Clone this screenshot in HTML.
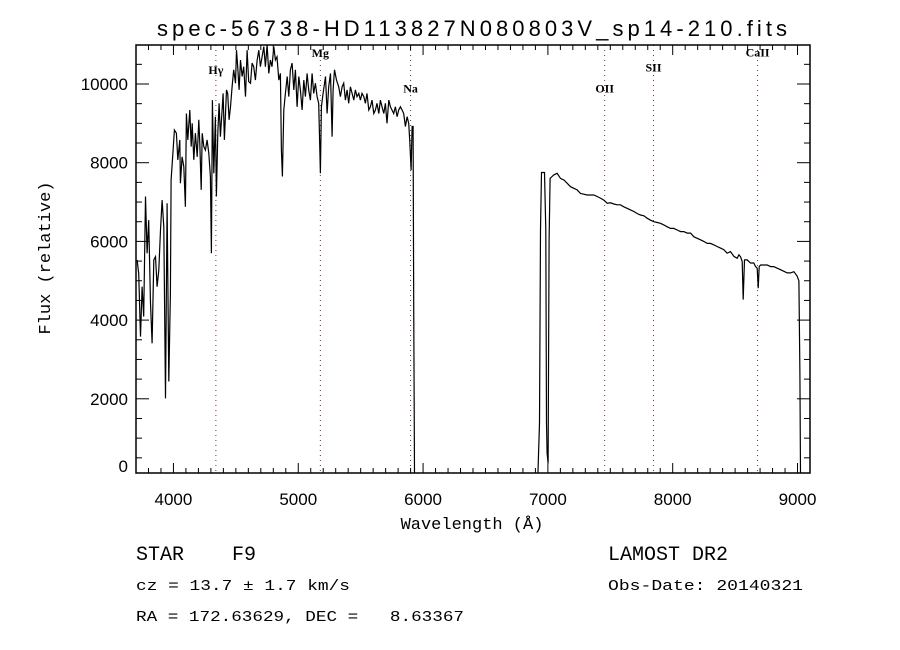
<!DOCTYPE html>
<html><head><meta charset="utf-8"><style>
body{margin:0;background:#fff;}
svg{display:block;}
text{fill:#000;}
</style></head><body>
<svg id="chart" width="900" height="650" xmlns="http://www.w3.org/2000/svg">
<rect width="900" height="650" fill="#fff"/>
<text x="157" y="36" font-family="Liberation Sans, sans-serif" font-size="22" textLength="630" lengthAdjust="spacing">spec-56738-HD113827N080803V_sp14-210.fits</text>
<text x="472" y="529" text-anchor="middle" font-family="Liberation Mono, monospace" font-size="17">Wavelength (Å)</text>
<text transform="translate(50,258) rotate(-90)" text-anchor="middle" font-family="Liberation Mono, monospace" font-size="17">Flux (relative)</text>
<g id="plot"></g>
<text x="136" y="560" font-family="Liberation Mono, monospace" font-size="20" xml:space="preserve">STAR    F9</text>
<text x="136" y="590" font-family="Liberation Mono, monospace" font-size="15" textLength="214" lengthAdjust="spacingAndGlyphs">cz = 13.7 ± 1.7 km/s</text>
<text x="136" y="621" font-family="Liberation Mono, monospace" font-size="15" xml:space="preserve" textLength="328" lengthAdjust="spacingAndGlyphs">RA = 172.63629, DEC =   8.63367</text>
<text x="608" y="560" font-family="Liberation Mono, monospace" font-size="20">LAMOST DR2</text>
<text x="608" y="590" font-family="Liberation Mono, monospace" font-size="15" textLength="195" lengthAdjust="spacingAndGlyphs">Obs-Date: 20140321</text>
</svg>
<script>
const wave=[3709,3722,3736,3749,3762,3776,3789,3802,3816,3829,3843,3856,3869,3883,3896,3909,3923,3936,3949,3963,3976,3981,3997,4008,4024,4035,4051,4056,4069,4083,4096,4104,4115,4131,4142,4150,4163,4176,4190,4203,4211,4222,4230,4243,4256,4270,4283,4296,4304,4312,4323,4336,4344,4355,4366,4376,4390,4398,4408,4425,4435,4446,4457,4470,4483,4497,4505,4515,4526,4537,4550,4563,4577,4590,4603,4617,4630,4643,4657,4670,4684,4697,4710,4724,4737,4750,4764,4777,4790,4804,4817,4830,4844,4857,4865,4873,4884,4897,4911,4924,4937,4951,4964,4977,4991,5004,5017,5031,5044,5057,5071,5084,5097,5111,5124,5137,5151,5164,5177,5185,5199,5218,5231,5244,5258,5271,5279,5290,5306,5324,5338,5351,5364,5378,5391,5404,5418,5431,5445,5458,5471,5485,5498,5511,5525,5538,5551,5565,5578,5591,5605,5618,5631,5645,5658,5671,5685,5698,5711,5725,5738,5751,5765,5778,5792,5805,5818,5832,5845,5858,5872,5885,5893,5904,5912,5920,5925,5931,5940,6910,
6919,6933,6941,6949,6973,6983,6989,6994,7002,7010,7018,7034,7047,7074,7101,7128,7154,7181,7208,7234,7261,7288,7315,7341,7368,7395,7421,7448,7475,7502,7528,7555,7582,7608,7635,7662,7689,7715,7742,7769,7795,7822,7849,7876,7902,7929,7956,7982,8009,8036,8063,8089,8116,8143,8169,8196,8223,8249,8276,8303,8330,8356,8383,8410,8436,8463,8490,8517,8530,8543,8557,8565,8575,8597,8623,8650,8664,8677,8685,8693,8704,8730,8757,8784,8810,8837,8864,8891,8917,8944,8971,8997,9011,9019,9024];
const flux=[5530,5190,3580,4850,4090,7140,5700,6540,4430,3410,5530,5610,4850,5270,6290,7050,6370,2010,6970,2440,4680,7560,8320,8830,8750,8070,8580,7480,8150,7900,6880,9250,8580,9340,8410,9000,8070,8750,8150,9090,8490,7310,8750,8410,8320,8580,8240,7650,5700,9590,7730,9170,7140,8750,9510,8660,9340,9760,8580,9850,9760,9090,9420,9930,10360,10020,10860,10440,9850,10610,10190,10440,9680,10860,10060,10020,10530,10440,10100,10600,10860,10440,10690,10950,10440,10990,10270,10610,10440,10950,10610,10690,10100,10270,8320,7650,9340,9760,10190,9680,10360,10530,9850,10360,9420,10190,9850,9340,10100,9680,10270,9850,9590,10270,9760,10020,9680,9510,7730,9420,9760,10190,9250,9930,10270,8660,9850,10360,10100,9930,9680,9930,10020,9590,9850,9510,9930,9760,9590,9850,9680,9760,9590,9760,9680,9510,9760,9340,9420,9590,9250,9340,9510,9250,9590,9420,9250,9510,9000,9590,9420,9340,9250,9420,9170,9340,9420,9340,9250,8920,9170,9000,8580,7810,8920,8920,4430,110,0,0,
0,1380,6290,7750,7750,6290,1380,620,360,6040,7600,7650,7690,7730,7600,7560,7480,7390,7350,7310,7220,7200,7180,7180,7180,7140,7100,7050,6970,6980,6950,6930,6930,6880,6840,6800,6760,6710,6670,6650,6590,6540,6500,6480,6460,6420,6370,6330,6330,6290,6250,6250,6210,6210,6120,6080,6040,6000,5950,5950,5910,5870,5830,5790,5700,5740,5620,5570,5660,5610,5490,4520,5530,5530,5450,5450,5360,5320,4810,5360,5400,5400,5400,5360,5360,5320,5280,5240,5200,5200,5230,5120,5000,2650,110];
const xTicks=[4000,5000,6000,7000,8000,9000];
const yTicks=[0,2000,4000,6000,8000,10000];
const lineNames=["Hγ","Mg","Na","OII","SII","CaII"];
const lineWaves=[4340,5177,5900,7455,7846,8680];
const lineLabelFlux=[10250,10680,9780,9780,10320,10700];

const X0=136,X1=810,Y0=45,Y1=473;
const WMIN=3700,WMAX=9100;
const sx=w=>X0+(w-WMIN)*(X1-X0)/(WMAX-WMIN);
const sy=f=>84+(10000-f)*0.03935;
const NS="http://www.w3.org/2000/svg";
const g=document.getElementById('plot');
function mk(tag,attrs,parent){const e=document.createElementNS(NS,tag);for(const k in attrs)e.setAttribute(k,attrs[k]);(parent||g).appendChild(e);return e;}

const defs=mk('defs',{});
const cp=mk('clipPath',{id:'clip'},defs);
mk('rect',{x:X0,y:Y0,width:X1-X0,height:Y1-Y0},cp);

lineWaves.forEach((w,i)=>{
  const l=mk('line',{x1:sx(w),x2:sx(w),y1:Y0,y2:Y1,stroke:'#7a3030','stroke-width':1,'stroke-dasharray':'1,4'});
  
  
  const t=mk('text',{x:sx(w),y:sy(lineLabelFlux[i]),'text-anchor':'middle','font-family':'Liberation Serif, serif','font-size':12,'font-weight':'bold'});
  t.textContent=lineNames[i];
  
  
});

let d='';
for(let i=0;i<wave.length;i++){d+=(i?'L':'M')+sx(wave[i]).toFixed(1)+','+sy(flux[i]).toFixed(1);}
const p=mk('path',{d:d,fill:'none',stroke:'#000','stroke-width':1.2,'clip-path':'url(#clip)'});



const fr=mk('rect',{x:X0,y:Y0,width:X1-X0,height:Y1-Y0,fill:'none',stroke:'#000','stroke-width':1.5});



for(let w=3800;w<=9100;w+=100){
  const maj=(w%1000===0),len=maj?10:5,x=sx(w);
  mk('line',{x1:x,x2:x,y1:Y1,y2:Y1-len,stroke:'#000','stroke-width':1});
  mk('line',{x1:x,x2:x,y1:Y0,y2:Y0+len,stroke:'#000','stroke-width':1});
}
xTicks.forEach(v=>{
  const t=mk('text',{x:sx(v),y:Y1+32,'text-anchor':'middle','font-family':'Liberation Sans, sans-serif','font-size':17});
  t.textContent=v;
  
  
});
for(let f=500;f<=11000;f+=500){
  const y=sy(f);if(y<Y0||y>Y1)continue;
  const maj=(f%2000===0),len=maj?13:6;
  mk('line',{x1:X0,x2:X0+len,y1:y,y2:y,stroke:'#000','stroke-width':1});
  mk('line',{x1:X1,x2:X1-len,y1:y,y2:y,stroke:'#000','stroke-width':1});
}
yTicks.forEach(v=>{
  const y=Math.min(sy(v),466);
  const t=mk('text',{x:X0-8,y:y+6,'text-anchor':'end','font-family':'Liberation Sans, sans-serif','font-size':17});
  t.textContent=v;
  
  
});
</script>
</body></html>
